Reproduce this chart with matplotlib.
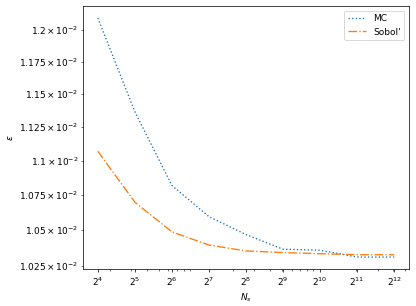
import numpy as np
import matplotlib
matplotlib.use('Agg')
import matplotlib.pyplot as plt


exponents = [4, 5, 6, 7, 8, 9, 10, 11, 12]
Ns = [2 ** k for k in exponents]

# error values
err_mc = [1.2099e-2, 1.1364e-2, 1.0818e-2, 1.0595e-2, 1.0469e-2,
          1.0367e-2, 1.0360e-2, 1.0313e-2, 1.0313e-2]
err_sobol = [1.1068e-2, 1.0698e-2, 1.0488e-2, 1.0396e-2, 1.0355e-2,
             1.0344e-2, 1.0336e-2, 1.0329e-2, 1.0329e-2]

fig = plt.figure(figsize=(6.4, 306 / 65), dpi=65)
ax = fig.add_axes([83 / 416, 1 - 269 / 306, 326 / 416, 263 / 306])

ax.plot(Ns, err_mc, ':', label='MC')
ax.plot(Ns, err_sobol, '-.', label="Sobol'")
ax.set_xscale('log')
ax.set_yscale('log')
ax.set_xticks(Ns)
ax.set_xticklabels([f'$2^{{{k}}}$' for k in exponents])
ax.set_xlabel('$N_s$')
ax.set_ylabel(r'$\epsilon$')
ax.legend(loc='upper right')

fig.savefig('out.png', dpi=65)
